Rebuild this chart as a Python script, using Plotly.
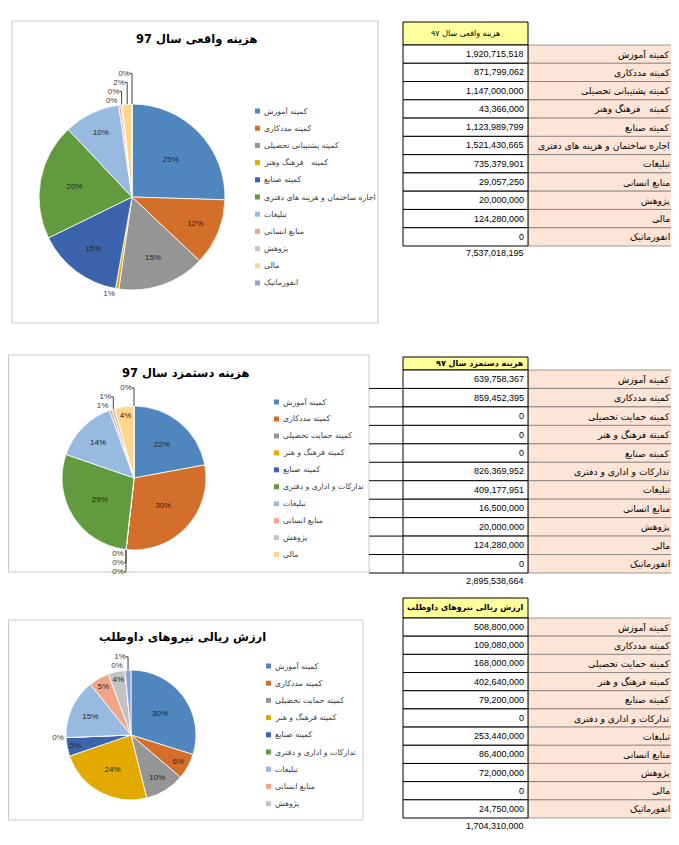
import plotly.graph_objects as go

PAGE_W, PAGE_H = 679, 845
OFF = 8  # default page body margin
W, H = PAGE_W - OFF, PAGE_H - OFF

# ---------------- data ----------------
labels_real = ["کمیته آموزش", "کمیته مددکاری", "کمیته پشتیبانی تحصیلی", "کمیته   فرهنگ وهنر",
               "کمیته صنایع", "اجاره ساختمان و هزینه های دفتری", "تبلیغات", "منابع انسانی",
               "پژوهش", "مالی", "انفورماتیک"]
labels_other = ["کمیته آموزش", "کمیته مددکاری", "کمیته حمایت تحصیلی", "کمیته فرهنگ و هنر",
                "کمیته صنایع", "تدارکات و اداری و دفتری", "تبلیغات", "منابع انسانی",
                "پژوهش", "مالی", "انفورماتیک"]
values_real = [1920715518, 871799062, 1147000000, 43366000, 1123989799, 1521430665,
               735379901, 29057250, 20000000, 124280000, 0]
values_wage = [639758367, 859452395, 0, 0, 0, 826369952, 409177951, 16500000,
               20000000, 124280000, 0]
values_volunteer = [508800000, 109080000, 168000000, 402640000, 79200000, 0,
                    253440000, 86400000, 72000000, 0, 24750000]
totals = ["7,537,018,195", "2,895,538,664", "1,704,310,000"]
chart_titles = ["هزینه واقعی سال 97", "هزینه دستمزد سال 97", "ارزش ریالی نیروهای داوطلب"]
table_headers = ["هزینه واقعی سال ۹۷", "هزینه دستمزد سال ۹۷", "ارزش ریالی نیروهای داوطلب"]
legend_counts = [11, 10, 9]

slice_colors = ["#4F86BE", "#D46F2B", "#959595", "#E2AA00", "#3C64AD", "#639A3E",
                "#98B9E0", "#F0A589", "#C3C3C3", "#FFD68C", "#8FA2D8"]

# ---------------- layout specs (page pixels) ----------------
specs = [
    dict(labels=labels_real, values=values_real, box=(12, 21, 378, 323), center=(132, 197), r=93,
         title=(197, 40), leg=(255, 111, 17.2), hdr=(22, 45), rows_bottom=246, total_y=253,
         hdr_align="center", hdr_bold=False, ext_left=None),
    dict(labels=labels_other, values=values_wage, box=(1, 355, 369, 572), center=(134, 478), r=72,
         title=(185, 373), leg=(274, 402, 16.96), hdr=(357, 370), rows_bottom=573, total_y=581,
         hdr_align="right", hdr_bold=True, ext_left=369),
    dict(labels=labels_other, values=values_volunteer, box=(1, 620, 363, 820), center=(131, 735), r=65,
         title=(182, 637), leg=(266, 666, 17.2), hdr=(598, 618), rows_bottom=818, total_y=826,
         hdr_align="right", hdr_bold=True, ext_left=None),
]

NUM_X0, NUM_X1, LAB_X1 = 403, 528, 674
AR_FONT = "DejaVu Sans"
NUM_FONT = "Liberation Sans, Arial, DejaVu Sans"


def px(x):
    return (max(x, OFF + 0.5) - OFF) / W


def py(y):
    return 1 - (y - OFF) / H


fig = go.Figure()
shapes = []
annotations = []

for k, s in enumerate(specs):
    vals = s["values"]
    tot = sum(vals)
    cx, cy = s["center"]
    r = s["r"]
    positions = ["inside" if v / tot >= 0.03 else "outside" for v in vals]
    fig.add_trace(go.Pie(
        labels=s["labels"], values=vals, sort=False, direction="clockwise", rotation=0,
        marker=dict(colors=slice_colors, line=dict(color="white", width=0.8)),
        texttemplate="%{percent:.0%}", textposition=positions,
        insidetextorientation="horizontal",
        textfont=dict(family=NUM_FONT, size=8, color="#262626"),
        outsidetextfont=dict(family=NUM_FONT, size=8, color="#404040"),
        domain=dict(x=[px(cx - r), px(cx + r)], y=[py(cy + r), py(cy - r)]),
        showlegend=False, hoverinfo="skip",
    ))

    # chart frame
    x0, y0, x1, y1 = s["box"]
    shapes.append(dict(type="rect", xref="paper", yref="paper", x0=px(x0), x1=px(x1),
                       y0=py(y1), y1=py(y0), line=dict(color="#C8C8C8", width=1),
                       fillcolor="white", layer="below"))
    # chart title
    tx, ty = s["title"]
    annotations.append(dict(x=px(tx), y=py(ty), xref="paper", yref="paper", showarrow=False,
                            text="<b>" + chart_titles[k] + "</b>", xanchor="center", yanchor="middle",
                            font=dict(family=AR_FONT, size=11.5, color="black")))
    # legend
    lx, ly, lstep = s["leg"]
    for i in range(legend_counts[k]):
        yy = ly + i * lstep
        shapes.append(dict(type="rect", xref="paper", yref="paper", x0=px(lx), x1=px(lx + 5),
                           y0=py(yy + 2.5), y1=py(yy - 2.5), line=dict(width=0),
                           fillcolor=slice_colors[i], layer="above"))
        annotations.append(dict(x=px(lx + 7), y=py(yy), xref="paper", yref="paper", showarrow=False,
                                text=s["labels"][i], xanchor="left", yanchor="middle",
                                font=dict(family=AR_FONT, size=7.8, color="#404040")))

    # table header
    h0, h1 = s["hdr"]
    shapes.append(dict(type="rect", xref="paper", yref="paper", x0=px(NUM_X0), x1=px(NUM_X1),
                       y0=py(h1), y1=py(h0), line=dict(color="black", width=1),
                       fillcolor="#FFFF9C", layer="below"))
    if s["hdr_align"] == "center":
        hx, hanchor = (NUM_X0 + NUM_X1) / 2, "center"
    else:
        hx, hanchor = NUM_X1 - 2, "right"
    htxt = table_headers[k]
    if s["hdr_bold"]:
        htxt = "<b>" + htxt + "</b>"
    annotations.append(dict(x=px(hx), y=py((h0 + h1) / 2), xref="paper", yref="paper", showarrow=False,
                            text=htxt, xanchor=hanchor, yanchor="middle",
                            font=dict(family=AR_FONT, size=8, color="black")))
    # table rows
    n = len(vals)
    rh = (s["rows_bottom"] - h1) / n
    for i in range(n):
        ra = h1 + i * rh
        rb = ra + rh
        shapes.append(dict(type="rect", xref="paper", yref="paper", x0=px(NUM_X1), x1=px(LAB_X1),
                           y0=py(rb), y1=py(ra), line=dict(color="#606060", width=0.6),
                           fillcolor="#FCE4D6", layer="below"))
        shapes.append(dict(type="rect", xref="paper", yref="paper", x0=px(NUM_X0), x1=px(NUM_X1),
                           y0=py(rb), y1=py(ra), line=dict(color="black", width=1),
                           fillcolor="white", layer="below"))
        if s["ext_left"] is not None:
            shapes.append(dict(type="line", xref="paper", yref="paper", x0=px(s["ext_left"]),
                               x1=px(NUM_X0), y0=py(rb), y1=py(rb),
                               line=dict(color="black", width=1), layer="below"))
        annotations.append(dict(x=px(NUM_X1 - 2), y=py((ra + rb) / 2), xref="paper", yref="paper",
                                showarrow=False, text=f"{vals[i]:,}", xanchor="right", yanchor="middle",
                                font=dict(family=NUM_FONT, size=9, color="black")))
        annotations.append(dict(x=px(LAB_X1 - 2), y=py((ra + rb) / 2), xref="paper", yref="paper",
                                showarrow=False, text=s["labels"][i], xanchor="right", yanchor="middle",
                                font=dict(family=AR_FONT, size=9.2, color="black")))
    annotations.append(dict(x=px(NUM_X1 - 2), y=py(s["total_y"]), xref="paper", yref="paper",
                            showarrow=False, text=totals[k], xanchor="right", yanchor="middle",
                            font=dict(family=NUM_FONT, size=9, color="black")))

fig.update_layout(
    width=W, height=H, margin=dict(l=0, r=0, t=0, b=0),
    paper_bgcolor="white", plot_bgcolor="white",
    shapes=shapes, annotations=annotations,
)

fig.write_html("out.html")
